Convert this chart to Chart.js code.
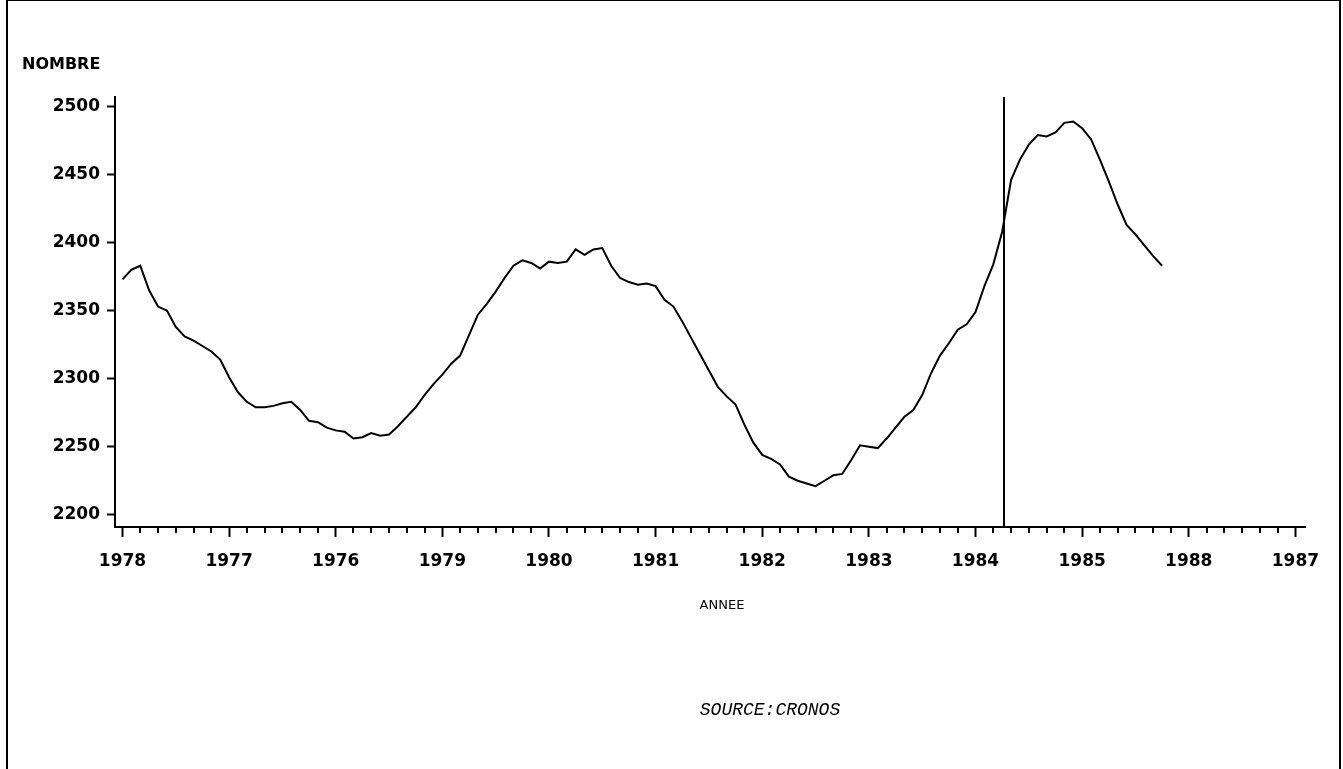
<!DOCTYPE html>
<html>
<head>
<meta charset="utf-8">
<script src="https://cdn.jsdelivr.net/npm/chart.js@4/dist/chart.umd.min.js"></script>
<style>
  html, body { margin: 0; padding: 0; background: #fff; }
  #page { position: relative; width: 1343px; height: 769px; overflow: hidden; }
  #frame { position: absolute; left: 6px; top: 0; width: 1331px; height: 780px;
           border-left: 2px solid #000; border-top: 1px solid #000; border-right: 2px solid #000; }
  #chart { position: absolute; left: 0; top: 0; }
  .lbl { position: absolute; color: #000; white-space: nowrap; }
  #nombre { left: 22px; top: 54px; font: bold 16px "DejaVu Sans", sans-serif; }
  #annee { left: 690px; top: 597px; width: 64px; text-align: center; font: 13px "DejaVu Sans", sans-serif; }
  #source { left: 670px; top: 700px; width: 200px; text-align: center; font: italic 18px "Liberation Mono", monospace; }
</style>
</head>
<body>
<div id="page">
  <div id="frame"></div>
  <canvas id="chart" width="1343" height="769"></canvas>
  <div class="lbl" id="nombre">NOMBRE</div>
  <div class="lbl" id="annee">ANNEE</div>
  <div class="lbl" id="source">SOURCE:CRONOS</div>
</div>
<script>
// Monthly series, first point January 1976
const START_YEAR = 1976;
const VALUES = [
  2373, 2380, 2383, 2365, 2353, 2350, 2338, 2331, 2328, 2324, 2320, 2314,
  2301, 2290, 2283, 2279, 2279, 2280, 2282, 2283, 2277, 2269, 2268, 2264,
  2262, 2261, 2256, 2257, 2260, 2258, 2259, 2265, 2272, 2279, 2288, 2296,
  2303, 2311, 2317, 2332, 2347, 2355, 2364, 2374, 2383, 2387, 2385, 2381,
  2386, 2385, 2386, 2395, 2391, 2395, 2396, 2383, 2374, 2371, 2369, 2370,
  2368, 2358, 2353, 2342, 2330, 2318, 2306, 2294, 2287, 2281, 2266, 2253,
  2244, 2241, 2237, 2228, 2225, 2223, 2221, 2225, 2229, 2230, 2240, 2251,
  2250, 2249, 2256, 2264, 2272, 2277, 2288, 2304, 2317, 2326, 2336, 2340,
  2349, 2368, 2384, 2408, 2446, 2461, 2472, 2479, 2478, 2481, 2488, 2489,
  2484, 2476, 2461, 2445, 2428, 2413, 2406, 2398, 2390, 2383
];

// x tick labels as printed, one per year from 1976 to 1987
const YEAR_LABELS = ["1978", "1977", "1976", "1979", "1980", "1981",
                     "1982", "1983", "1984", "1985", "1988", "1987"];
const Y_TICKS = [2200, 2250, 2300, 2350, 2400, 2450, 2500];

const X_MIN = 1975.93, X_MAX = 1987.09;
const Y_MIN = 2191, Y_MAX = 2507;
const MARKER_YEAR = 1984.27;   // vertical line

const FONT = { family: "DejaVu Sans", size: 17, weight: "bold" };

const points = VALUES.map((v, i) => ({ x: START_YEAR + i / 12, y: v }));

const isYear = v => Math.abs(v - Math.round(v)) < 1e-6;

// minor ticks every two months + vertical marker
const extras = {
  id: "extras",
  afterDraw(chart) {
    const { ctx, chartArea, scales } = chart;
    const x = scales.x;
    ctx.save();
    ctx.strokeStyle = "#000";
    ctx.lineWidth = 2;
    for (let k = 0; k <= (YEAR_LABELS.length - 1) * 6; k++) {
      if (k % 6 === 0) continue;
      const px = Math.round(x.getPixelForValue(START_YEAR + k / 6));
      ctx.beginPath();
      ctx.moveTo(px, chartArea.bottom);
      ctx.lineTo(px, chartArea.bottom + 6);
      ctx.stroke();
    }
    const mx = Math.round(x.getPixelForValue(MARKER_YEAR));
    ctx.beginPath();
    ctx.moveTo(mx, chartArea.top);
    ctx.lineTo(mx, chartArea.bottom);
    ctx.stroke();
    ctx.restore();
  }
};

new Chart(document.getElementById("chart"), {
  type: "line",
  data: {
    datasets: [{
      data: points,
      borderColor: "#000",
      borderWidth: 2,
      pointRadius: 0,
      tension: 0,
      fill: false
    }]
  },
  options: {
    responsive: false,
    animation: false,
    layout: { padding: { top: 97, right: 38, left: 0, bottom: 0 } },
    plugins: { legend: { display: false }, tooltip: { enabled: false } },
    scales: {
      x: {
        type: "linear",
        min: X_MIN,
        max: X_MAX,
        afterFit: s => { s.height = 242; },
        afterBuildTicks: s => {
          s.ticks = YEAR_LABELS.map((_, i) => ({ value: START_YEAR + i }));
        },
        border: { color: "#000", width: 2 },
        grid: { drawOnChartArea: false, tickLength: 10, tickWidth: 2, tickColor: "#000" },
        ticks: {
          color: "#000",
          font: FONT,
          padding: 14,
          maxRotation: 0,
          autoSkip: false,
          callback: v => isYear(v) ? YEAR_LABELS[Math.round(v) - START_YEAR] : ""
        }
      },
      y: {
        min: Y_MIN,
        max: Y_MAX,
        afterFit: s => { s.width = 115; },
        afterBuildTicks: s => { s.ticks = Y_TICKS.map(v => ({ value: v })); },
        border: { color: "#000", width: 2 },
        grid: { drawOnChartArea: false, tickLength: 8, tickWidth: 2, tickColor: "#000" },
        ticks: {
          color: "#000",
          font: FONT,
          padding: 7,
          autoSkip: false,
          callback: v => String(v)
        }
      }
    }
  },
  plugins: [extras]
});
</script>
</body>
</html>
